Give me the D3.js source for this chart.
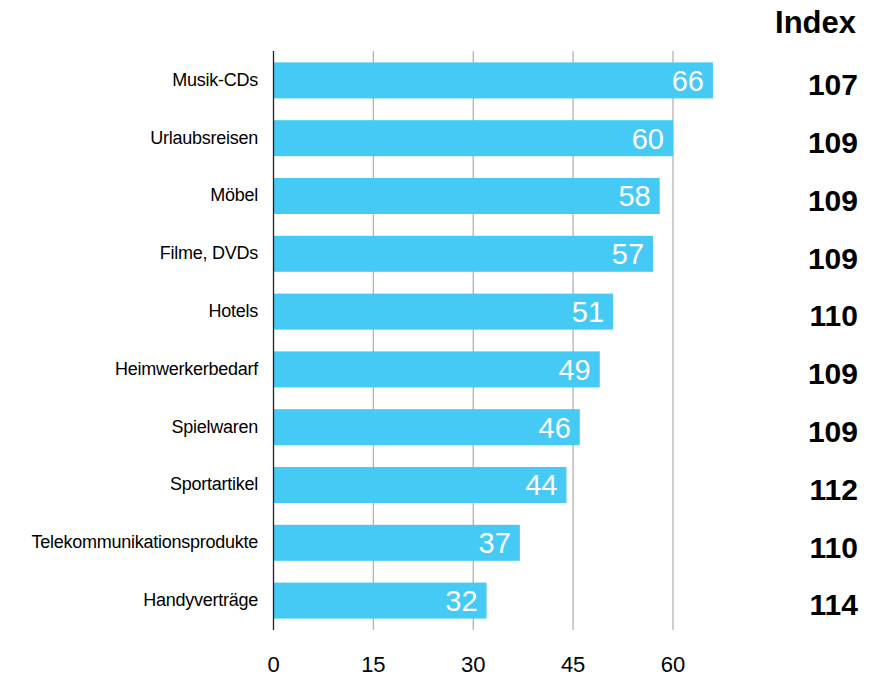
<!DOCTYPE html>
<html><head><meta charset="utf-8">
<script src="https://cdn.jsdelivr.net/npm/d3@7"></script>
<style>body{margin:0;background:#fff}svg{display:block;font-family:"Liberation Sans",Arial,sans-serif}</style>
</head><body><svg id="c" width="874" height="680"></svg>
<script>
const categories = ["Musik-CDs","Urlaubsreisen","Möbel","Filme, DVDs","Hotels","Heimwerkerbedarf","Spielwaren","Sportartikel","Telekommunikationsprodukte","Handyverträge"];
const values = [66,60,58,57,51,49,46,44,37,32];
const indexValues = [107,109,109,109,110,109,109,112,110,114];
const ticks = [0,15,30,45,60];
const indexTitle = "Index";

const svg = d3.select("#c");
const x = d3.scaleLinear().domain([0,60]).range([273.5,673]);
const y = d3.scaleBand().domain(categories).range([51,630]).paddingInner(0.377).paddingOuter(0.197);

// gridlines
svg.append("g").selectAll("line").data(ticks.filter(t=>t>0)).join("line")
  .attr("x1",d=>x(d)).attr("x2",d=>x(d)).attr("y1",51).attr("y2",630)
  .attr("stroke","#b3b3b3").attr("stroke-width",1.3);

// bars
svg.append("g").selectAll("rect").data(values).join("rect")
  .attr("x",x(0)).attr("y",(d,i)=>y(categories[i]))
  .attr("width",d=>x(d)-x(0)).attr("height",y.bandwidth())
  .attr("fill","#45c9f5");

// axis line
svg.append("line").attr("x1",x(0)).attr("x2",x(0)).attr("y1",51).attr("y2",630)
  .attr("stroke","#222").attr("stroke-width",1.3);

// value labels
svg.append("g").selectAll("text").data(values).join("text")
  .attr("x",d=>x(d)-9).attr("y",(d,i)=>y(categories[i])+y.bandwidth()/2)
  .attr("dy","0.36em").attr("text-anchor","end").attr("fill","#fff")
  .attr("font-size",29).text(d=>d);

// category labels
svg.append("g").selectAll("text").data(categories).join("text")
  .attr("x",258).attr("y",d=>y(d)+y.bandwidth()/2).attr("dy","0.3em")
  .attr("text-anchor","end").attr("font-size",18).attr("fill","#000")
  .attr("letter-spacing",-0.25).text(d=>d);

// x tick labels
svg.append("g").selectAll("text").data(ticks).join("text")
  .attr("x",d=>x(d)).attr("y",672).attr("text-anchor","middle")
  .attr("font-size",22).attr("fill","#000").text(d=>d);

// index column
svg.append("text").attr("x",856).attr("y",33).attr("text-anchor","end")
  .attr("font-size",31).attr("font-weight","bold").text(indexTitle);
svg.append("g").selectAll("text").data(indexValues).join("text")
  .attr("x",858).attr("y",(d,i)=>y(categories[i])+y.bandwidth()/2+4)
  .attr("dy","0.36em").attr("text-anchor","end").attr("font-size",30)
  .attr("font-weight","bold").text(d=>d);
</script></body></html>
